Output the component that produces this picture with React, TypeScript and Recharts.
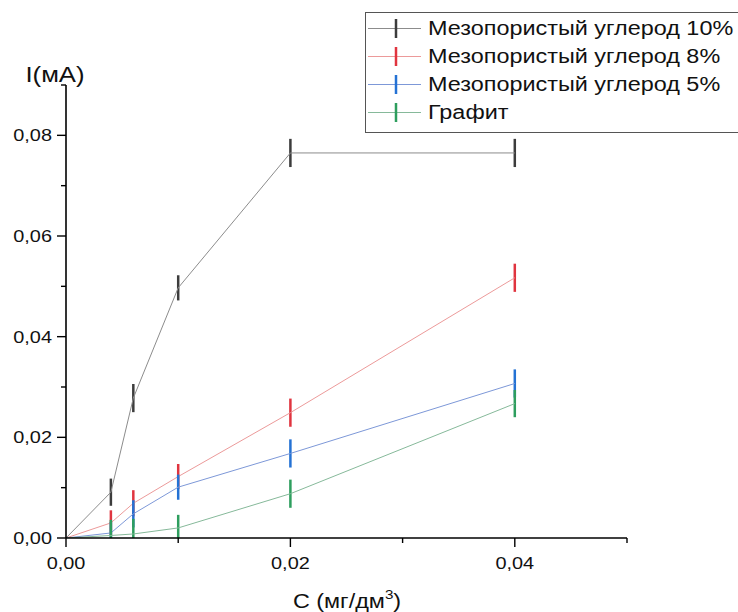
import React from 'react';
import { LineChart, Line, XAxis, YAxis, ErrorBar, Legend } from 'recharts';

// Concentration, mg/dm³
const conc = [0, 0.004, 0.006, 0.01, 0.02, 0.04];

// Current, mA, with the spread of each measurement
const meso10 = [0, 0.0091, 0.0278, 0.0497, 0.0765, 0.0765];
const meso10Err = [0, 0.0027, 0.0028, 0.0025, 0.0028, 0.0028];
const meso8 = [0, 0.003, 0.0069, 0.0122, 0.0249, 0.0517];
const meso8Err = [0, 0.0025, 0.0026, 0.0025, 0.0028, 0.0028];
const meso5 = [0, 0.001, 0.0048, 0.0101, 0.0168, 0.0307];
const meso5Err = [0, 0.0022, 0.0027, 0.0025, 0.0028, 0.0028];
const graphite = [0, 0.0005, 0.0008, 0.002, 0.0088, 0.0267];
const graphiteErr = [0, 0.0031, 0.003, 0.0026, 0.0028, 0.0027];

const xTicks = [0, 0.01, 0.02, 0.03, 0.04, 0.05];
const yTicks = [0, 0.01, 0.02, 0.03, 0.04, 0.05, 0.06, 0.07, 0.08, 0.09];

const keys = ['meso10', 'meso8', 'meso5', 'graphite'];

const seriesNames: Record<string, string> = {
  meso10: 'Мезопористый углерод 10%',
  meso8: 'Мезопористый углерод 8%',
  meso5: 'Мезопористый углерод 5%',
  graphite: 'Графит',
};

const seriesStyle: Record<string, { line: string; bar: string }> = {
  meso10: { line: '#8c8c8c', bar: '#3c3c3c' },
  meso8: { line: '#ec9a9a', bar: '#e0343f' },
  meso5: { line: '#7d98d8', bar: '#2472d4' },
  graphite: { line: '#86b99a', bar: '#2e9e5e' },
};

// error bars stop at the x-axis: the lower arm never goes below zero
const bar = (v: number, e: number) => [Math.min(e, v), e];

const data = conc.map((c, i) => ({
  c,
  meso10: meso10[i],
  meso10Err: bar(meso10[i], meso10Err[i]),
  meso8: meso8[i],
  meso8Err: bar(meso8[i], meso8Err[i]),
  meso5: meso5[i],
  meso5Err: bar(meso5[i], meso5Err[i]),
  graphite: graphite[i],
  graphiteErr: bar(graphite[i], graphiteErr[i]),
}));

const FONT = '"Liberation Sans", Arial, sans-serif';
// glyphs are drawn slightly wide
const SX = 1.17;

const fmt = (v: number) => v.toFixed(2).replace('.', ',');
const isMajor = (v: number) => Math.round(v * 100) % 2 === 0;

// SVG text stretched horizontally around its anchor point
const WideText = ({ x, y, anchor, size, children }: any) => (
  <g transform={`translate(${x},${y}) scale(${SX},1)`}>
    <text x={0} y={0} textAnchor={anchor} fontSize={size} fill="#111" fontFamily={FONT}>
      {children}
    </text>
  </g>
);

const YTick = (props: any) => {
  const { x, y, payload } = props;
  const major = isMajor(payload.value);
  return (
    <g>
      <line x1={x} x2={x - (major ? 9 : 5)} y1={y} y2={y} stroke="#000" strokeWidth={1.4} />
      {major && (
        <WideText x={x - 14} y={y + 6} anchor="end" size={17}>
          {fmt(payload.value)}
        </WideText>
      )}
    </g>
  );
};

const XTick = (props: any) => {
  const { x, y, payload } = props;
  const major = isMajor(payload.value);
  return (
    <g>
      <line x1={x} x2={x} y1={y} y2={y + (major ? 9 : 5)} stroke="#000" strokeWidth={1.4} />
      {major && (
        <WideText x={x} y={y + 31} anchor="middle" size={17}>
          {fmt(payload.value)}
        </WideText>
      )}
    </g>
  );
};

const renderLegend = (props: any) => {
  const payload = [...(props.payload || [])].sort(
    (a: any, b: any) => keys.indexOf(a.dataKey) - keys.indexOf(b.dataKey)
  );
  return (
    <div
      style={{
        border: '1px solid #555',
        background: '#fff',
        width: 390,
        height: 121,
        boxSizing: 'border-box',
        paddingTop: 2,
      }}
    >
      {payload.map((entry: any) => {
        const st = seriesStyle[entry.dataKey];
        return (
          <div key={entry.dataKey} style={{ display: 'flex', alignItems: 'center', height: 27.8 }}>
            <svg width={62} height={27} style={{ flex: 'none' }}>
              <line x1={2} x2={55} y1={13.5} y2={13.5} stroke={st.line} strokeWidth={1} />
              <line x1={30} x2={30} y1={4} y2={23} stroke={st.bar} strokeWidth={2.5} />
            </svg>
            <span
              style={{
                fontFamily: FONT,
                fontSize: 20,
                color: '#111',
                whiteSpace: 'nowrap',
                display: 'inline-block',
                transform: `scaleX(${SX})`,
                transformOrigin: 'left center',
              }}
            >
              {entry.value}
            </span>
          </div>
        );
      })}
    </div>
  );
};

export default function App() {
  return (
    <div style={{ position: 'absolute', left: 0, top: 0, width: 738, height: 612, background: '#fff' }}>
      <LineChart width={738} height={612} data={data} margin={{ top: 85, right: 111, bottom: 73, left: 65 }}>
        <XAxis
          dataKey="c"
          type="number"
          domain={[0, 0.05]}
          allowDataOverflow
          ticks={xTicks}
          interval={0}
          height={1}
          tickSize={0}
          tickMargin={0}
          tick={<XTick />}
          tickLine={false}
          axisLine={{ stroke: '#000', strokeWidth: 1.6 }}
        />
        <YAxis
          type="number"
          domain={[0, 0.09]}
          allowDataOverflow
          ticks={yTicks}
          interval={0}
          width={1}
          tickSize={0}
          tickMargin={0}
          tick={<YTick />}
          tickLine={false}
          axisLine={{ stroke: '#000', strokeWidth: 1.6 }}
        />
        <Legend
          layout="vertical"
          align="center"
          verticalAlign="middle"
          content={renderLegend}
          wrapperStyle={{ top: 12, left: 365, width: 390, height: 121 }}
        />
        {keys.map((k) => (
          <Line
            key={k}
            dataKey={k}
            name={seriesNames[k]}
            stroke={seriesStyle[k].line}
            strokeWidth={1}
            dot={false}
            isAnimationActive={false}
          >
            <ErrorBar
              dataKey={`${k}Err`}
              direction="y"
              width={0}
              stroke={seriesStyle[k].bar}
              strokeWidth={2.5}
              isAnimationActive={false}
            />
          </Line>
        ))}
        <WideText x={55} y={82} anchor="middle" size={22}>
          I(мА)
        </WideText>
        <WideText x={347} y={608} anchor="middle" size={20}>
          C (мг/дм
          <tspan fontSize={13} dy={-9}>3</tspan>
          <tspan dy={9}>)</tspan>
        </WideText>
      </LineChart>
    </div>
  );
}
